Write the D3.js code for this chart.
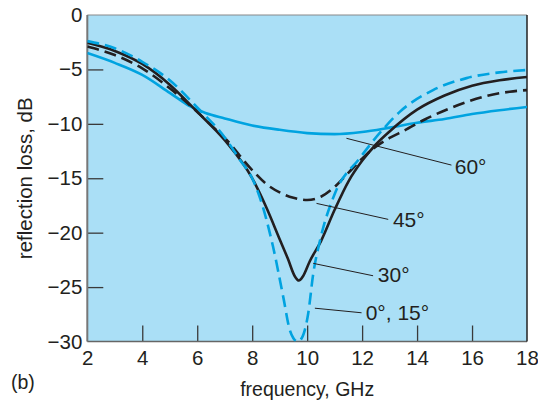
<!DOCTYPE html>
<html>
<head>
<meta charset="utf-8">
<script src="https://cdn.jsdelivr.net/npm/d3@7/dist/d3.min.js"></script>
<style>
html,body{margin:0;padding:0;background:#fff;}
svg{display:block;font-family:"Liberation Sans",Arial,sans-serif;}
</style>
</head>
<body>
<svg id="chart" width="538" height="402"></svg>
<script>
// ---- data (frequency GHz, reflection loss dB) ----
const freq0 = [2, 3, 4, 5, 6, 7, 7.55, 8, 8.27, 8.76, 9.13, 9.37, 9.5, 9.65, 9.8, 10.04, 10.22, 10.47, 11.01, 11.9, 12.76, 13.37, 14.58, 15.8, 17, 18];
const loss0 = [-2.4, -3.06, -4.3, -6.0, -8.5, -11.25, -13.3, -15.0, -16.7, -21.3, -25.9, -28.95, -29.7, -30.0, -29.7, -27.4, -23.8, -20.7, -16.4, -13.2, -10.5, -8.9, -6.9, -5.8, -5.27, -5.05];

const freq30 = [2, 3, 4, 5, 6, 7, 8, 8.5, 9, 9.3, 9.55, 9.7, 9.85, 10.1, 10.5, 11, 11.5, 12, 12.5, 13, 14, 15, 16, 17, 18];
const loss30 = [-2.55, -3.3, -4.5, -6.4, -8.9, -11.5, -15.0, -17.6, -20.6, -22.4, -24.0, -24.4, -24.0, -22.6, -20.8, -17.9, -15.3, -13.4, -11.9, -10.7, -8.7, -7.4, -6.5, -6.0, -5.7];

const freq45 = [2, 3, 4, 5, 6, 6.58, 7, 8, 8.5, 9, 9.5, 10, 10.5, 10.95, 11.5, 12, 12.5, 13, 13.55, 14.28, 15.07, 15.73, 16.52, 17.37, 18];
const loss45 = [-2.9, -3.68, -4.9, -6.74, -8.9, -10.3, -11.3, -14.25, -15.5, -16.3, -16.8, -17.0, -16.7, -15.9, -14.5, -13.2, -12.1, -11.3, -10.6, -9.6, -8.7, -8.06, -7.44, -7.05, -6.9];

const freq60 = [2, 3, 4, 5, 5.75, 6.3, 7, 8, 9, 10, 11, 12, 13, 14, 15, 16, 17, 18];
const loss60 = [-3.5, -4.4, -5.5, -7.15, -8.4, -9.0, -9.5, -10.15, -10.55, -10.85, -10.95, -10.75, -10.35, -9.9, -9.55, -9.1, -8.75, -8.45];

const xTicks = [2, 4, 6, 8, 10, 12, 14, 16, 18];
const yTicks = [0, -5, -10, -15, -20, -25, -30];

// annotation labels with leader lines, in data units
const labelText = ["60°", "45°", "30°", "0°, 15°"];
const leaderFrom = [[11.43, -11.33], [10.34, -17.31], [10.22, -22.82], [10.28, -26.94]];
const leaderTo = [[15.25, -13.79], [12.95, -18.78], [12.4, -23.96], [11.98, -27.36]];
const labelAt = [[15.37, -14.6], [13.12, -19.5], [12.57, -24.55], [12.13, -28.0]];

// ---- layout ----
const W = 538, H = 402;
const margin = {top: 15, right: 11, bottom: 60.5, left: 87.3};
const iw = W - margin.left - margin.right;
const ih = H - margin.top - margin.bottom;

const BLUE = "#00a3e0", BLACK = "#231f20", BG = "#aadff6";

const svg = d3.select("#chart");
const g = svg.append("g").attr("transform", `translate(${margin.left},${margin.top})`);

const x = d3.scaleLinear().domain([2, 18]).range([0, iw]);
const y = d3.scaleLinear().domain([-30, 0]).range([ih, 0]);

g.append("rect").attr("width", iw).attr("height", ih).attr("fill", BG);

g.append("clipPath").attr("id", "clip")
  .append("rect").attr("width", iw).attr("height", ih);

// axes
const yAxis = d3.axisLeft(y).tickValues(yTicks).tickSizeInner(-16).tickSizeOuter(0).tickPadding(5)
  .tickFormat(d => d === 0 ? "0" : "\u2212" + Math.abs(d));
const ya = g.append("g").call(yAxis);
ya.select(".domain").remove();
ya.selectAll(".tick line").attr("stroke", "#3a3a3a").attr("stroke-width", 1.3)
  .attr("display", d => (d === 0 || d === -30) ? "none" : null);
ya.selectAll(".tick text").attr("font-size", 20.5).attr("fill", "#231f20")
  .attr("font-family", "'Liberation Sans', Arial, sans-serif");

const xAxis = d3.axisBottom(x).tickValues(xTicks).tickSizeInner(-16).tickSizeOuter(0).tickPadding(9)
  .tickFormat(d3.format("d"));
const xa = g.append("g").attr("transform", `translate(0,${ih})`).call(xAxis);
xa.select(".domain").remove();
xa.selectAll(".tick line").attr("stroke", "#3a3a3a").attr("stroke-width", 1.3)
  .attr("display", d => (d === 2 || d === 18) ? "none" : null);
xa.selectAll(".tick text").attr("font-size", 20.5).attr("fill", "#231f20")
  .attr("font-family", "'Liberation Sans', Arial, sans-serif");

// frame
g.append("line").attr("x1", 0).attr("x2", iw).attr("y1", 0).attr("y2", 0).attr("stroke", "#888").attr("stroke-width", 1);
g.append("line").attr("x1", 0).attr("x2", 0).attr("y1", 0).attr("y2", ih).attr("stroke", "#777").attr("stroke-width", 2);
g.append("line").attr("x1", 0).attr("x2", iw).attr("y1", ih).attr("y2", ih).attr("stroke", "#666").attr("stroke-width", 1.6);
g.append("line").attr("x1", iw).attr("x2", iw).attr("y1", 0).attr("y2", ih).attr("stroke", "#222").attr("stroke-width", 1.5);

// curves
const line = d3.line().x(d => x(d[0])).y(d => y(d[1])).curve(d3.curveMonotoneX);
const series = [
  {f: freq60, v: loss60, color: BLUE, dash: null},
  {f: freq45, v: loss45, color: BLACK, dash: "12,6"},
  {f: freq30, v: loss30, color: BLACK, dash: null},
  {f: freq0, v: loss0, color: BLUE, dash: "12,6"}
];
const curves = g.append("g").attr("clip-path", "url(#clip)");
series.forEach(s => {
  curves.append("path")
    .datum(s.f.map((f, i) => [f, s.v[i]]))
    .attr("d", line)
    .attr("fill", "none")
    .attr("stroke", s.color)
    .attr("stroke-width", 2.6)
    .attr("stroke-dasharray", s.dash);
});

// leader lines and labels
labelText.forEach((t, i) => {
  g.append("line")
    .attr("x1", x(leaderFrom[i][0])).attr("y1", y(leaderFrom[i][1]))
    .attr("x2", x(leaderTo[i][0])).attr("y2", y(leaderTo[i][1]))
    .attr("stroke", BLACK).attr("stroke-width", 1);
  g.append("text")
    .attr("x", x(labelAt[i][0])).attr("y", y(labelAt[i][1]))
    .attr("font-size", 21).attr("fill", BLACK)
    .text(t);
});

// axis titles
svg.append("text")
  .attr("x", margin.left + iw / 2).attr("y", 396)
  .attr("text-anchor", "middle").attr("font-size", 19.5).attr("fill", BLACK)
  .text("frequency, GHz");
svg.append("text")
  .attr("transform", `translate(32,${margin.top + ih / 2}) rotate(-90)`)
  .attr("text-anchor", "middle").attr("font-size", 20.5).attr("fill", BLACK)
  .text("reflection loss, dB");
svg.append("text")
  .attr("x", 11).attr("y", 389)
  .attr("font-size", 19.5).attr("fill", BLACK)
  .text("(b)");
</script>
</body>
</html>
